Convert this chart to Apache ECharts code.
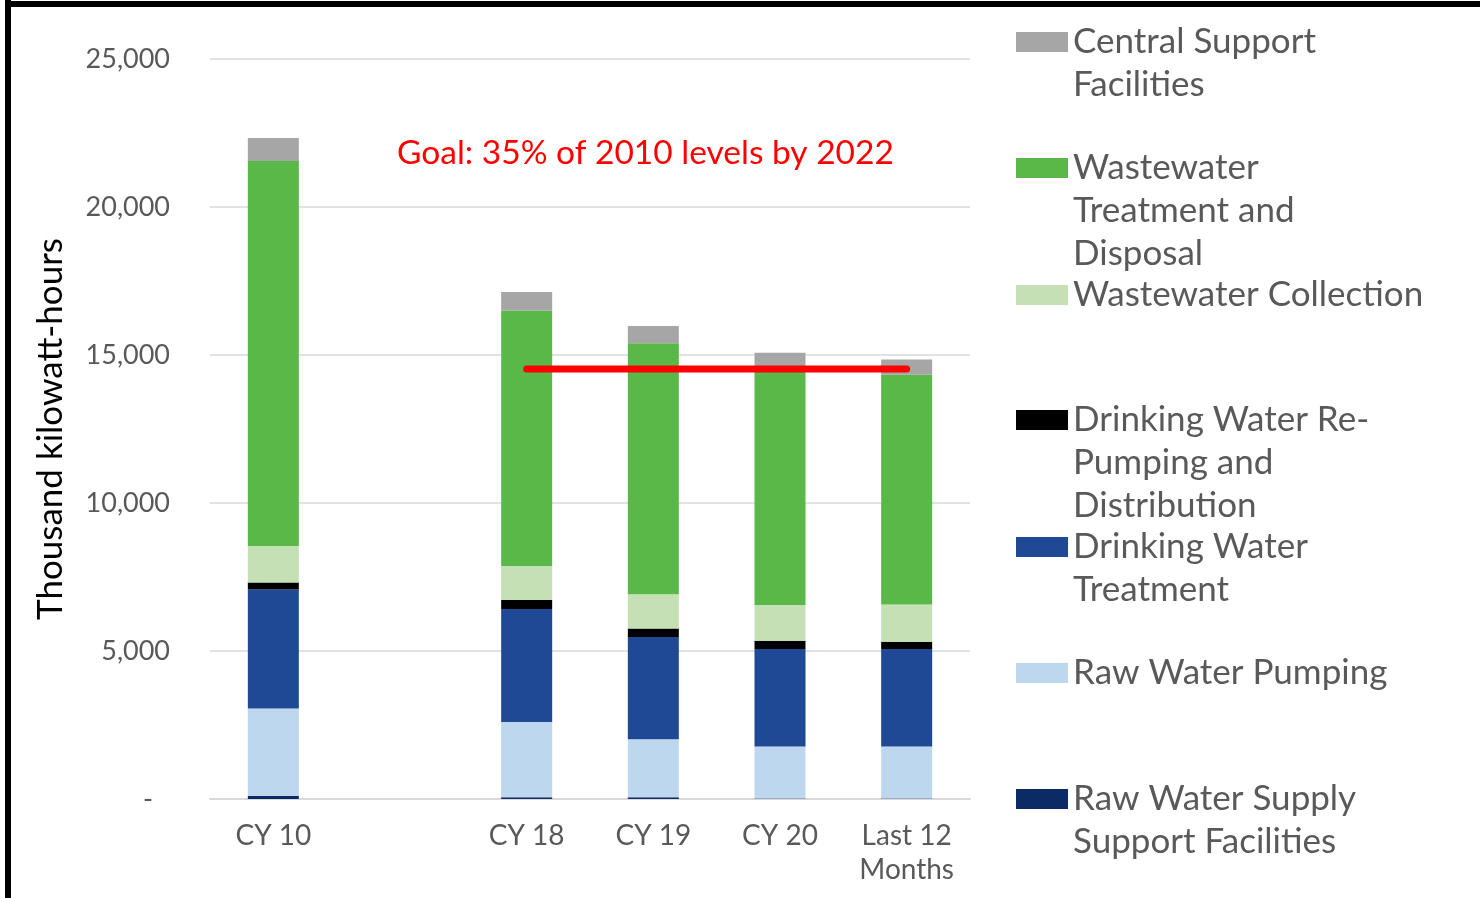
<!DOCTYPE html>
<html>
<head>
<meta charset="utf-8">
<script src="https://cdn.jsdelivr.net/npm/echarts@6/dist/echarts.min.js"></script>
<style>
  html, body { margin: 0; padding: 0; background: #fff; }
  #main { width: 1480px; height: 898px; }
</style>
</head>
<body>
<div id="main"></div>
<script>
// categories (one blank slot between CY 10 and CY 18)
var categories = ['CY 10', '', 'CY 18', 'CY 19', 'CY 20', 'Last 12\nMonths'];

// stacked series, bottom to top (thousand kWh)
var rawSupply   = [100,  null, 60,   60,   20,   20];
var rawPumping  = [2960, null, 2540, 1960, 1750, 1750];
var dwTreatment = [4020, null, 3820, 3450, 3300, 3300];
var dwRepumping = [230,  null, 300,  290,  280,  240];
var wwCollect   = [1240, null, 1150, 1160, 1200, 1260];
var wwTreatment = [13000, null, 8630, 8480, 8030, 7760];
var central     = [780,  null, 630,  580,  500,  520];

// goal line: 35% below 2010 levels
var goal = [null, null, 14530, 14530, 14530, 14530];

var yTicks = [0, 5000, 10000, 15000, 20000, 25000];

var seriesNames = [
  'Raw Water Supply Support Facilities',
  'Raw Water Pumping',
  'Drinking Water Treatment',
  'Drinking Water Re-Pumping and Distribution',
  'Wastewater Collection',
  'Wastewater Treatment and Disposal',
  'Central Support Facilities'
];
var seriesData = [rawSupply, rawPumping, dwTreatment, dwRepumping, wwCollect, wwTreatment, central];
var colors = ['#0c2a64', '#bdd7ee', '#1f4995', '#000000', '#c5e0b4', '#59b847', '#a6a6a6'];

// legend labels as wrapped in the original, and the y of each swatch centre
var legendLabels = {
  'Central Support Facilities': 'Central Support\nFacilities',
  'Wastewater Treatment and Disposal': 'Wastewater\nTreatment and\nDisposal',
  'Wastewater Collection': 'Wastewater Collection',
  'Drinking Water Re-Pumping and Distribution': 'Drinking Water Re-\nPumping and\nDistribution',
  'Drinking Water Treatment': 'Drinking Water\nTreatment',
  'Raw Water Pumping': 'Raw Water Pumping',
  'Raw Water Supply Support Facilities': 'Raw Water Supply\nSupport Facilities'
};
var legendOrder = [
  'Central Support Facilities',
  'Wastewater Treatment and Disposal',
  'Wastewater Collection',
  'Drinking Water Re-Pumping and Distribution',
  'Drinking Water Treatment',
  'Raw Water Pumping',
  'Raw Water Supply Support Facilities'
];
var legendY = [42, 168, 295, 420, 547, 673, 799];

var LH = 43; // legend line height
var legends = legendOrder.map(function (name, i) {
  var lines = legendLabels[name].split('\n').length;
  // blank lines in front keep the swatch level with the first text line
  var pad = new Array(lines).join('\n');
  return {
    left: 1016,
    top: legendY[i] - (2 * lines - 1) * LH / 2,
    padding: 0,
    orient: 'vertical',
    selectedMode: false,
    icon: 'rect',
    itemWidth: 52,
    itemHeight: 20,
    itemGap: 0,
    data: [name],
    formatter: function (n) { return pad + legendLabels[n]; },
    textStyle: {
      fontFamily: 'Lato',
      fontSize: 35,
      lineHeight: LH,
      color: '#595959'
    }
  };
});

var series = seriesNames.map(function (name, i) {
  return {
    name: name,
    type: 'bar',
    stack: 'total',
    barWidth: 51,
    data: seriesData[i],
    itemStyle: { color: colors[i] },
    emphasis: { disabled: true }
  };
});
series.push({
  name: 'Goal',
  type: 'line',
  data: goal,
  symbol: 'none',
  z: 5,
  lineStyle: { color: '#ff0000', width: 7, cap: 'round' },
  emphasis: { disabled: true }
});

var myChart = echarts.init(document.getElementById('main'));
var option = {
  animation: false,
  backgroundColor: '#ffffff',
  title: {
    text: 'Goal: 35% of 2010 levels by 2022',
    left: 397,
    top: 136,
    padding: 0,
    textStyle: {
      fontFamily: 'Lato',
      fontSize: 33.5,
      fontWeight: 'normal',
      color: '#ff0000'
    }
  },
  legend: legends,
  grid: { left: 210, right: 510, top: 59, bottom: 99 },
  xAxis: {
    type: 'category',
    data: categories,
    axisTick: { show: false },
    axisLine: { lineStyle: { color: '#d9d9d9', width: 2 } },
    axisLabel: {
      interval: 0,
      margin: 20,
      fontFamily: 'Lato',
      fontSize: 28,
      lineHeight: 34,
      color: '#595959'
    }
  },
  yAxis: {
    type: 'value',
    min: yTicks[0],
    max: yTicks[yTicks.length - 1],
    interval: 5000,
    name: 'Thousand kilowatt-hours',
    nameLocation: 'middle',
    nameGap: 142,
    nameTextStyle: { fontFamily: 'Lato', fontSize: 35, color: '#000000' },
    axisLine: { show: false },
    axisTick: { show: false },
    splitLine: { lineStyle: { color: '#d9d9d9', width: 1.5 } },
    axisLabel: {
      margin: 40,
      fontFamily: 'Lato',
      fontSize: 27,
      color: '#595959',
      formatter: function (v) {
        return v === 0 ? '{d|-}' : echarts.format.addCommas(v);
      },
      rich: {
        d: { fontFamily: 'Lato', fontSize: 27, color: '#595959', padding: [0, 17, 0, 0] }
      }
    }
  },
  graphic: [
    { type: 'rect', shape: { x: 5, y: 0, width: 6, height: 898 }, style: { fill: '#000' } },
    { type: 'rect', shape: { x: 5, y: 1, width: 1475, height: 6 }, style: { fill: '#000' } }
  ],
  series: series
};
myChart.setOption(option);
</script>
</body>
</html>
